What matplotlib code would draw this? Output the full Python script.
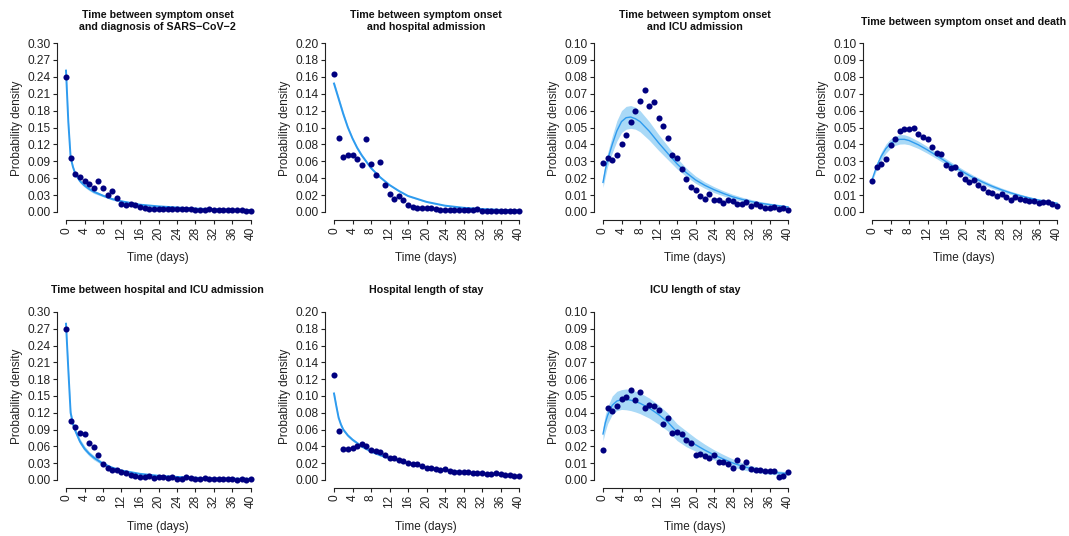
import numpy as np
import matplotlib
matplotlib.use('Agg')
import matplotlib.pyplot as plt
from matplotlib.ticker import FormatStrFormatter

plt.rcParams['font.family'] = ['Liberation Sans', 'DejaVu Sans']

days = list(range(41))

# fitted curves are read at these times
grid_dec = [0, 0.5, 1, 1.5, 2, 3, 4, 5, 6, 8, 10, 12, 14, 16, 20, 24, 28, 32, 36, 40]
grid_hump = [0, 0.5, 1, 2, 3, 4, 5, 6, 7, 8, 10, 12, 14, 16, 18, 20, 22, 24, 26, 28, 30, 32, 34, 36, 38, 40]

titles = ["Time between symptom onset\nand diagnosis of SARS\u2212CoV\u22122",
          "Time between symptom onset\nand hospital admission",
          "Time between symptom onset\nand ICU admission",
          "Time between symptom onset and death",
          "Time between hospital and ICU admission",
          "Hospital length of stay",
          "ICU length of stay"]
ymaxes = [0.30, 0.20, 0.10, 0.10, 0.30, 0.20, 0.10]
ysteps = [0.03, 0.02, 0.01, 0.01, 0.03, 0.02, 0.01]

# observed densities, days 0..40
obs_diag = [0.239, 0.096, 0.068, 0.062, 0.055, 0.0505, 0.043, 0.055, 0.042, 0.030,
            0.037, 0.0255, 0.015, 0.0125, 0.0137, 0.0125, 0.009, 0.007, 0.006, 0.006,
            0.006, 0.006, 0.005, 0.005, 0.005, 0.005, 0.005, 0.005, 0.004, 0.004,
            0.004, 0.005, 0.004, 0.003, 0.003, 0.003, 0.003, 0.003, 0.003, 0.002, 0.002]
obs_hosp = [0.163, 0.087, 0.0645, 0.068, 0.067, 0.063, 0.056, 0.086, 0.0566, 0.0436,
            0.0586, 0.0325, 0.0218, 0.0155, 0.019, 0.0147, 0.0087, 0.0063, 0.005, 0.0044,
            0.0048, 0.0044, 0.0036, 0.0024, 0.0024, 0.0024, 0.0024, 0.0024, 0.0024, 0.0024,
            0.0024, 0.003, 0.0016, 0.0014, 0.0012, 0.0012, 0.0012, 0.0012, 0.0012, 0.0012, 0.0012]
obs_icu = [0.0291, 0.0321, 0.0309, 0.0337, 0.0402, 0.0455, 0.0535, 0.0598, 0.0655, 0.0719,
           0.0626, 0.0653, 0.0554, 0.0509, 0.0438, 0.0339, 0.0317, 0.0255, 0.0198, 0.0149,
           0.0131, 0.0093, 0.0077, 0.0105, 0.0069, 0.0069, 0.0051, 0.0073, 0.0065, 0.0046,
           0.0046, 0.0057, 0.0038, 0.0046, 0.0034, 0.0026, 0.0026, 0.003, 0.0018, 0.0026, 0.0014]
obs_death = [0.0186, 0.0267, 0.0283, 0.0315, 0.0396, 0.0432, 0.0479, 0.0493, 0.0491, 0.0497,
             0.0459, 0.0446, 0.043, 0.0386, 0.0352, 0.0341, 0.0277, 0.0259, 0.0265, 0.0224,
             0.0198, 0.018, 0.0188, 0.0162, 0.0141, 0.0117, 0.0113, 0.0095, 0.0109, 0.0089,
             0.0069, 0.0089, 0.0079, 0.0069, 0.0065, 0.0063, 0.0051, 0.0059, 0.0059, 0.0046, 0.0034]
obs_hosp_icu = [0.2695, 0.106, 0.094, 0.0835, 0.0817, 0.066, 0.0584, 0.0453, 0.028, 0.0215,
                0.0179, 0.0185, 0.0137, 0.0119, 0.0083, 0.0066, 0.006, 0.006, 0.0066, 0.0042,
                0.006, 0.0054, 0.0042, 0.006, 0.0024, 0.0024, 0.0048, 0.0042, 0.0018, 0.0018,
                0.003, 0.0018, 0.0018, 0.0012, 0.0012, 0.0018, 0.0012, 0.0006, 0.0012, 0.0006, 0.0012]
obs_hosp_los = [0.1252, 0.0588, 0.0366, 0.0366, 0.0386, 0.0406, 0.0429, 0.0406, 0.0362, 0.035,
                0.033, 0.0294, 0.0262, 0.0266, 0.0243, 0.0231, 0.0207, 0.0195, 0.0191, 0.0167,
                0.0147, 0.0143, 0.0135, 0.0123, 0.0127, 0.0107, 0.0099, 0.0099, 0.0099, 0.0091,
                0.0087, 0.008, 0.008, 0.0076, 0.0076, 0.008, 0.0072, 0.0064, 0.0056, 0.0052, 0.0052]
obs_icu_los = [0.0181, 0.0431, 0.0408, 0.0439, 0.0481, 0.0495, 0.0537, 0.0475, 0.0521, 0.0431,
               0.0445, 0.0443, 0.0414, 0.0334, 0.037, 0.0282, 0.0288, 0.0272, 0.0241, 0.0219,
               0.0149, 0.0155, 0.0141, 0.0133, 0.0149, 0.0105, 0.0109, 0.0097, 0.0072, 0.0121,
               0.0078, 0.0105, 0.0066, 0.006, 0.0058, 0.0052, 0.0052, 0.0054, 0.002, 0.0022, 0.005]

# fitted densities with 95% bands
fit_diag = [0.251, 0.160, 0.097, 0.080, 0.068, 0.055, 0.047, 0.041, 0.036, 0.029,
            0.023, 0.019, 0.016, 0.013, 0.010, 0.008, 0.006, 0.005, 0.004, 0.0035]
lo_diag = [0.245, 0.153, 0.093, 0.077, 0.065, 0.052, 0.044, 0.038, 0.033, 0.027,
           0.021, 0.017, 0.014, 0.012, 0.009, 0.007, 0.005, 0.004, 0.0035, 0.003]
hi_diag = [0.257, 0.167, 0.101, 0.083, 0.071, 0.058, 0.050, 0.044, 0.039, 0.031,
           0.025, 0.021, 0.018, 0.014, 0.011, 0.009, 0.007, 0.006, 0.0045, 0.004]

fit_hosp = [0.152, 0.143, 0.134, 0.125, 0.116, 0.100, 0.087, 0.076, 0.067, 0.052,
            0.041, 0.032, 0.025, 0.019, 0.012, 0.0075, 0.005, 0.0035, 0.0025, 0.002]
lo_hosp = [0.149, 0.140, 0.131, 0.122, 0.113, 0.098, 0.085, 0.074, 0.065, 0.0505,
           0.0398, 0.031, 0.024, 0.018, 0.0112, 0.007, 0.0045, 0.003, 0.002, 0.0015]
hi_hosp = [0.155, 0.146, 0.137, 0.128, 0.119, 0.102, 0.089, 0.078, 0.069, 0.0535,
           0.0422, 0.033, 0.026, 0.020, 0.0128, 0.008, 0.0055, 0.004, 0.003, 0.0025]

fit_icu = [0.0175, 0.025, 0.031, 0.040, 0.048, 0.0535, 0.0558, 0.0562, 0.0552, 0.0535,
           0.0478, 0.041, 0.0347, 0.0285, 0.0233, 0.019, 0.0158, 0.0132, 0.011, 0.009,
           0.0075, 0.0062, 0.0052, 0.0044, 0.0037, 0.003]
lo_icu = [0.0145, 0.021, 0.027, 0.035, 0.042, 0.047, 0.049, 0.0495, 0.049, 0.0475,
          0.0425, 0.0365, 0.031, 0.0255, 0.021, 0.017, 0.014, 0.0115, 0.0095, 0.0077,
          0.0063, 0.0052, 0.0043, 0.0036, 0.003, 0.0024]
hi_icu = [0.021, 0.029, 0.035, 0.045, 0.054, 0.060, 0.0625, 0.063, 0.062, 0.060,
          0.0535, 0.046, 0.039, 0.032, 0.026, 0.0213, 0.0178, 0.015, 0.0126, 0.0105,
          0.0088, 0.0074, 0.0062, 0.0053, 0.0045, 0.0037]

fit_death = [0.019, 0.023, 0.027, 0.033, 0.0375, 0.0405, 0.0422, 0.043, 0.043, 0.0423,
             0.0398, 0.0367, 0.0333, 0.0298, 0.0264, 0.0232, 0.0202, 0.0176, 0.0152, 0.0131,
             0.0113, 0.0097, 0.0083, 0.0071, 0.0061, 0.0052]
lo_death = [0.018, 0.0215, 0.025, 0.0305, 0.0348, 0.0377, 0.0394, 0.0402, 0.0403, 0.0398,
            0.0376, 0.0347, 0.0315, 0.0281, 0.0248, 0.0217, 0.0188, 0.0163, 0.014, 0.012,
            0.0103, 0.0088, 0.0075, 0.0064, 0.0054, 0.0046]
hi_death = [0.020, 0.0245, 0.029, 0.0355, 0.0402, 0.0433, 0.045, 0.0458, 0.0457, 0.0448,
            0.042, 0.0387, 0.0351, 0.0315, 0.028, 0.0247, 0.0216, 0.0189, 0.0164, 0.0142,
            0.0123, 0.0106, 0.0091, 0.0078, 0.0068, 0.0058]

fit_hosp_icu = [0.279, 0.197, 0.120, 0.100, 0.088, 0.069, 0.056, 0.047, 0.040, 0.029,
                0.022, 0.017, 0.014, 0.011, 0.0075, 0.0055, 0.004, 0.003, 0.0025, 0.002]
lo_hosp_icu = [0.272, 0.190, 0.114, 0.094, 0.083, 0.064, 0.052, 0.043, 0.036, 0.026,
               0.020, 0.0155, 0.0125, 0.0098, 0.0066, 0.0048, 0.0034, 0.0025, 0.002, 0.0016]
hi_hosp_icu = [0.286, 0.204, 0.126, 0.106, 0.093, 0.074, 0.061, 0.051, 0.044, 0.032,
               0.024, 0.0185, 0.0155, 0.0122, 0.0084, 0.0062, 0.0046, 0.0035, 0.003, 0.0024]

fit_hosp_los = [0.103, 0.088, 0.074, 0.066, 0.060, 0.053, 0.048, 0.044, 0.040, 0.034,
                0.0295, 0.026, 0.023, 0.020, 0.0152, 0.012, 0.0095, 0.0076, 0.006, 0.0048]
lo_hosp_los = [0.100, 0.0855, 0.0718, 0.0638, 0.058, 0.0512, 0.0463, 0.0424, 0.0385, 0.0327,
               0.0283, 0.0249, 0.022, 0.0191, 0.0145, 0.0114, 0.009, 0.0072, 0.0057, 0.0045]
hi_hosp_los = [0.106, 0.0905, 0.0762, 0.0682, 0.062, 0.0548, 0.0497, 0.0456, 0.0415, 0.0353,
               0.0307, 0.0271, 0.024, 0.0209, 0.0159, 0.0126, 0.01, 0.008, 0.0063, 0.0051]

fit_icu_los = [0.0274, 0.034, 0.0385, 0.0445, 0.047, 0.0478, 0.048, 0.0475, 0.0467, 0.0457,
               0.0428, 0.039, 0.0345, 0.0285, 0.0245, 0.021, 0.0178, 0.015, 0.0125, 0.0102,
               0.0083, 0.0068, 0.0057, 0.0048, 0.0042, 0.0038]
lo_icu_los = [0.0234, 0.029, 0.0335, 0.039, 0.0413, 0.042, 0.0418, 0.0413, 0.0405, 0.0395,
              0.0368, 0.0333, 0.0292, 0.0235, 0.0198, 0.0172, 0.0143, 0.012, 0.0098, 0.0078,
              0.0062, 0.005, 0.0041, 0.0034, 0.003, 0.0028]
hi_icu_los = [0.0317, 0.039, 0.0435, 0.05, 0.0528, 0.0538, 0.0542, 0.0537, 0.0529, 0.0519,
              0.0488, 0.0447, 0.0398, 0.0335, 0.0292, 0.025, 0.0213, 0.018, 0.0152, 0.0126,
              0.0104, 0.0086, 0.0073, 0.0062, 0.0054, 0.0048]

panels = [
    (grid_dec, obs_diag, fit_diag, lo_diag, hi_diag),
    (grid_dec, obs_hosp, fit_hosp, lo_hosp, hi_hosp),
    (grid_hump, obs_icu, fit_icu, lo_icu, hi_icu),
    (grid_hump, obs_death, fit_death, lo_death, hi_death),
    (grid_dec, obs_hosp_icu, fit_hosp_icu, lo_hosp_icu, hi_hosp_icu),
    (grid_dec, obs_hosp_los, fit_hosp_los, lo_hosp_los, hi_hosp_los),
    (grid_hump, obs_icu_los, fit_icu_los, lo_icu_los, hi_icu_los),
]

W, H = 1069, 536
fig = plt.figure(figsize=(W / 100, H / 100), dpi=100)

col_x0 = [66, 334, 603, 872]        # pixel of day 0 in each column
row_y = [(43, 212), (312, 480)]     # pixel of top tick and of zero
title_y = [21, 21, 21, 22, 290, 290, 290]
span = 185.0
sx = span / 40
ink = '#222222'

for i, (grid, obs, fit, lo, hi) in enumerate(panels):
    r, c = divmod(i, 4)
    ytop, y0 = row_y[r]
    sy = y0 - ytop
    left = col_x0[c] - 1.9 * sx
    right = col_x0[c] + span + 1.6 * sx
    bottom = y0 + 0.047 * sy
    top = ytop - 0.04 * sy
    wpx, hpx = right - left, bottom - top
    ax = fig.add_axes([left / W, 1 - bottom / H, wpx / W, hpx / H])
    ymax = ymaxes[i]

    ax.fill_between(grid, lo, hi, color='#a9d9f7', lw=0, zorder=1)
    ax.plot(grid, fit, color='#2e9bef', lw=1.4 if grid is grid_dec else 1.0, zorder=2)
    ax.plot(days, obs, 'o', color='#000080', ms=4.4, mec='none', zorder=3)

    ax.set_xlim(-1.9, 41.6)
    ax.set_ylim(-0.047 * ymax, 1.04 * ymax)
    ax.set_xticks(np.arange(0, 41, 4))
    ax.set_yticks(np.arange(0, ymax + 1e-9, ysteps[i]))
    ax.yaxis.set_major_formatter(FormatStrFormatter('%.2f'))
    ax.tick_params(axis='x', labelrotation=90)
    ax.tick_params(length=3, width=0.8, pad=2, labelsize=8.6, colors=ink)
    for s in ['top', 'right']:
        ax.spines[s].set_visible(False)
    ax.spines['left'].set_bounds(0, ymax)
    ax.spines['bottom'].set_bounds(0, 40)
    for s in ['left', 'bottom']:
        ax.spines[s].set_linewidth(0.8)
        ax.spines[s].set_color(ink)

    # axis titles sit at fixed pixel offsets from the plot box
    ax.set_xlabel('Time (days)', fontsize=8.5, va='center', color=ink)
    ax.xaxis.set_label_coords(0.5, -(38 + r) / hpx)
    ylab_x = col_x0[c] - 49
    ax.set_ylabel('Probability density', fontsize=8.5, va='center', color=ink)
    ax.yaxis.set_label_coords((ylab_x - left) / wpx, 0.5)

    fig.text(((left + right) / 2) / W, 1 - title_y[i] / H, titles[i],
             ha='center', va='center', fontsize=7.7, fontweight='bold',
             linespacing=1.15, color='#111111')

fig.savefig('out.png', dpi=100)
